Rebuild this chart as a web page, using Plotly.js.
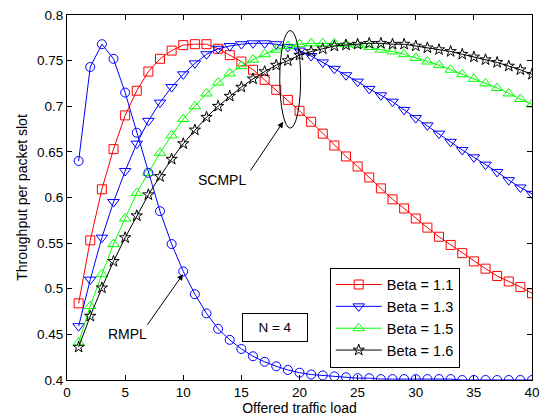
<!DOCTYPE html>
<html>
<head>
<meta charset="utf-8">
<script src="https://cdn.plot.ly/plotly-3.0.1.min.js"></script>
<style>html,body{margin:0;padding:0;background:#fff;}#chart{width:543px;height:418px;}</style>
</head>
<body>
<div id="chart"></div>
<script>
const load = [1,2,3,4,5,6,7,8,9,10,11,12,13,14,15,16,17,18,19,20,21,22,23,24,25,26,27,28,29,30,31,32,33,34,35,36,37,38,39,40];

const rmpl = [0.640,0.743,0.768,0.752,0.715,0.671,0.627,0.585,0.549,0.519,0.494,0.473,0.456,0.444,0.434,0.426,0.420,0.415,0.411,0.408,0.406,0.405,0.404,0.403,0.402,0.402,0.401,0.401,0.401,0.401,0.401,0.401,0.401,0.400,0.400,0.400,0.400,0.400,0.400,0.400];

const beta11 = [0.484,0.553,0.609,0.653,0.690,0.717,0.738,0.752,0.761,0.767,0.768,0.768,0.763,0.756,0.749,0.740,0.729,0.718,0.707,0.695,0.683,0.670,0.657,0.645,0.634,0.622,0.610,0.598,0.588,0.577,0.567,0.557,0.548,0.539,0.530,0.522,0.514,0.508,0.502,0.495];

const beta13 = [0.459,0.510,0.556,0.595,0.629,0.659,0.684,0.704,0.721,0.735,0.747,0.757,0.763,0.766,0.768,0.769,0.769,0.768,0.765,0.761,0.755,0.748,0.741,0.734,0.727,0.719,0.712,0.705,0.696,0.687,0.679,0.670,0.661,0.652,0.644,0.636,0.628,0.619,0.611,0.604];

const beta15 = [0.441,0.481,0.516,0.549,0.577,0.605,0.627,0.649,0.668,0.686,0.700,0.714,0.726,0.736,0.744,0.751,0.757,0.762,0.766,0.768,0.769,0.769,0.769,0.768,0.767,0.765,0.762,0.760,0.757,0.753,0.749,0.745,0.740,0.735,0.730,0.725,0.720,0.714,0.708,0.702];

const beta16 = [0.436,0.470,0.501,0.530,0.556,0.580,0.603,0.623,0.642,0.659,0.674,0.688,0.700,0.711,0.721,0.730,0.738,0.745,0.750,0.756,0.760,0.763,0.766,0.767,0.768,0.769,0.769,0.768,0.768,0.766,0.764,0.762,0.760,0.757,0.754,0.751,0.748,0.744,0.740,0.735];

const seriesNames = ['Beta = 1.1','Beta = 1.3','Beta = 1.5','Beta = 1.6'];
const xTicks = [0,5,10,15,20,25,30,35,40];
const yTicks = [0.4,0.45,0.5,0.55,0.6,0.65,0.7,0.75,0.8];

const FONT = '"Liberation Sans", Arial, Helvetica, sans-serif';

function tr(y, name, color, symbol, size, show) {
  return {
    x: load, y: y, name: name, type: 'scatter', mode: 'lines+markers',
    showlegend: show,
    line: {color: color, width: 1},
    marker: {symbol: symbol, size: size, color: color, line: {color: color, width: 1}}
  };
}

const data = [
  tr(beta11, seriesNames[0], '#ff0000', 'square-open', 9, true),
  tr(beta13, seriesNames[1], '#0000ff', 'triangle-down-open', 10, true),
  tr(beta15, seriesNames[2], '#00ff00', 'triangle-up-open', 10, true),
  tr(beta16, seriesNames[3], '#000000', 'star-open', 8.5, true),
  tr(rmpl, 'RMPL', '#0000ff', 'circle-open', 9, false)
];

const axisCommon = {
  showline: true, linecolor: '#000', linewidth: 1, mirror: 'ticks',
  ticks: 'inside', ticklen: 5, tickcolor: '#000', tickwidth: 1,
  showgrid: false, zeroline: false,
  tickfont: {family: FONT, size: 13.5, color: '#000'}
};

const layout = {
  width: 543, height: 418,
  margin: {l: 67, r: 11, t: 15, b: 38},
  paper_bgcolor: '#fff', plot_bgcolor: '#fff',
  font: {family: FONT, color: '#000'},
  xaxis: Object.assign({}, axisCommon, {
    range: [0, 40], tickvals: xTicks, ticktext: xTicks.map(String),
    title: {text: 'Offered traffic load', font: {family: FONT, size: 14}, standoff: 2}
  }),
  yaxis: Object.assign({}, axisCommon, {
    range: [0.4, 0.8], tickvals: yTicks, ticktext: yTicks.map(v => String(v)),
    title: {text: 'Throughput per packet slot', font: {family: FONT, size: 14}, standoff: 6}
  }),
  legend: {
    x: 0.565, y: 0.308, xanchor: 'left', yanchor: 'top',
    bgcolor: '#fff', bordercolor: '#000', borderwidth: 1,
    font: {family: FONT, size: 14.5, color: '#000'},
    itemwidth: 46, tracegroupgap: 0
  },
  shapes: [
    {type: 'circle', xref: 'x', yref: 'y', x0: 18.3, x1: 20.1, y0: 0.676, y1: 0.783,
     line: {color: '#000', width: 1}}
  ],
  annotations: [
    {xref: 'x', yref: 'y', x: 18.6, y: 0.683, ax: 15.7, ay: 0.628, axref: 'x', ayref: 'y',
     text: '', showarrow: true, arrowhead: 2, arrowsize: 1.2, arrowwidth: 1, arrowcolor: '#000'},
    {xref: 'x', yref: 'y', x: 13.3, y: 0.619, text: 'SCMPL', showarrow: false,
     font: {family: FONT, size: 14, color: '#000'}},
    {xref: 'x', yref: 'y', x: 9.98, y: 0.516, ax: 6.83, ay: 0.459, axref: 'x', ayref: 'y',
     text: '', showarrow: true, arrowhead: 2, arrowsize: 1.2, arrowwidth: 1, arrowcolor: '#000'},
    {xref: 'x', yref: 'y', x: 5.17, y: 0.450, text: 'RMPL', showarrow: false,
     font: {family: FONT, size: 14, color: '#000'}},
    {xref: 'x', yref: 'y', x: 17.85, y: 0.4575, text: 'N = 4', showarrow: false,
     font: {family: FONT, size: 13.5, color: '#000'},
     bordercolor: '#000', borderwidth: 1, borderpad: 5, bgcolor: '#fff', width: 54, height: 17}
  ]
};

Plotly.newPlot('chart', data, layout, {displayModeBar: false, staticPlot: true});
</script>
</body>
</html>
